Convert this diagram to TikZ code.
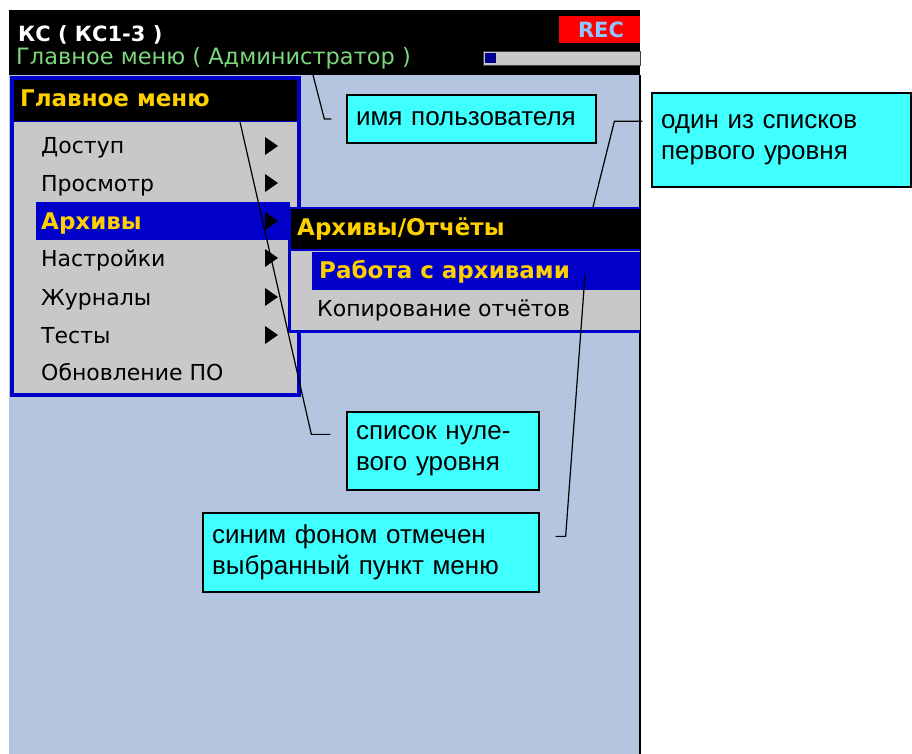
\documentclass[tikz,border=0pt]{standalone}
\usepackage{fontspec}
\usepackage{tikz}
\setmainfont{DejaVu Sans}
\newfontfamily\callfont{Liberation Sans}

\definecolor{scrbg}{HTML}{B5C5DF}
\definecolor{menublue}{HTML}{0000C8}
\definecolor{menugray}{HTML}{C8C8C8}
\definecolor{menuyellow}{HTML}{FFD000}
\definecolor{headgreen}{HTML}{7CD67C}
\definecolor{rectext}{HTML}{8CC8FF}
\definecolor{callcyan}{HTML}{40FFFF}
\definecolor{barnavy}{HTML}{000090}

\begin{document}
\begin{tikzpicture}[x=1pt,y=-1pt,
    scrtext/.style={anchor=west,inner sep=0pt,text height=16pt,text depth=0pt,
                    font=\fontsize{22}{26}\selectfont},
    scrbold/.style={scrtext,text=menuyellow,font=\fontsize{23}{27}\selectfont\bfseries},
    callbox/.style={draw=black,line width=1.3pt,fill=callcyan,inner xsep=9pt,align=left,
                    font=\callfont\fontsize{26}{31}\selectfont},
    leader/.style={line width=1.2pt}]
  \useasboundingbox[fill=white] (0,0) rectangle (912,754);

  % Screen
  \fill[scrbg] (9,75) rectangle (640,754);
  \fill[black] (9,10) rectangle (640,75);
  \draw[line width=2pt] (640,75) -- (640,754);
  \node[scrtext,text=white,font=\fontsize{21}{25}\selectfont\bfseries,text height=15.5pt] (dev) at (18,34) {КС ( КС1-3 )};
  \node[scrtext,text=headgreen,font=\fontsize{22.5}{26}\selectfont] (user) at (16,57) {Главное меню ( Администратор )};
  \fill[red] (559,16) rectangle (640,43);
  \node[text=rectext,font=\fontsize{21}{24}\selectfont\bfseries,inner sep=0pt] (rec) at (601,29.5) {REC};
  \draw[draw=darkgray,fill=menugray] (483,51) rectangle (640,65);
  \fill[barnavy] (485,53) rectangle (496,63);

  % Main menu (level 0)
  \fill[menublue] (10,76) rectangle (301,397);
  \fill[black] (14,80) rectangle (297,121);
  \fill[menugray] (14,122) rectangle (297,393);
  \fill[menublue] (36,202) rectangle (290,240);
  \node[scrbold] (mainttl) at (20,99) {Главное меню};
  \node[scrtext] (m1) at (41,146) {Доступ};
  \node[scrtext] (m2) at (41,183) {Просмотр};
  \node[scrbold] (m3) at (41,221) {Архивы};
  \node[scrtext] (m4) at (41,258) {Настройки};
  \node[scrtext] (m5) at (41,297) {Журналы};
  \node[scrtext] (m6) at (41,335) {Тесты};
  \node[scrtext] (m7) at (41,372) {Обновление ПО};
  \foreach \y in {146,183,221,258,297,335}
    \fill[black] (265,\y-9) -- (278,\y) -- (265,\y+9) -- cycle;

  % Submenu (level 1)
  \fill[menublue] (288,207) rectangle (640,333);
  \fill[black] (291,209) rectangle (640,249);
  \fill[menugray] (291,251) rectangle (640,330);
  \fill[menublue] (312,252) rectangle (640,290);
  \node[scrbold] (subttl) at (297,227) {Архивы/Отчёты};
  \node[scrbold] (s1) at (319,270) {Работа с архивами};
  \node[scrtext] (s2) at (317,308) {Копирование отчётов};

  % Callouts
  \node[callbox,text width=231pt,minimum height=48pt] (name) at (471.5,119) {имя пользователя};
  \node[callbox,text width=241pt,minimum height=94pt] (lvl1) at (781.5,140)
    {один из списков\\первого уровня};
  \node[callbox,text width=174pt,minimum height=78pt] (lvl0) at (443,451)
    {список нуле-\\вого уровня};
  \node[callbox,text width=318pt,minimum height=79pt] (selbox) at (371,552.5)
    {синим фоном отмечен\\выбранный пункт меню};

  % Leaders
  \coordinate (usrpt) at (313,75);
  \coordinate (subpt) at (593,207);
  \coordinate (mainpt) at (240,122);
  \coordinate (selpt) at (585,275);
  \draw[leader] ([xshift=-15pt]name.west) -- ++(-7,0) -- (usrpt);
  \draw[leader] ([xshift=-9pt,yshift=-29pt]lvl1.north west) -- ++(-28,0) -- (subpt);
  \draw[leader] ([xshift=-16pt,yshift=-23pt]lvl0.north west) -- ++(-19,0) -- (mainpt);
  \draw[leader] ([xshift=16pt,yshift=-24pt]selbox.north east) -- ++(10,0) -- (selpt);
\end{tikzpicture}
\end{document}
